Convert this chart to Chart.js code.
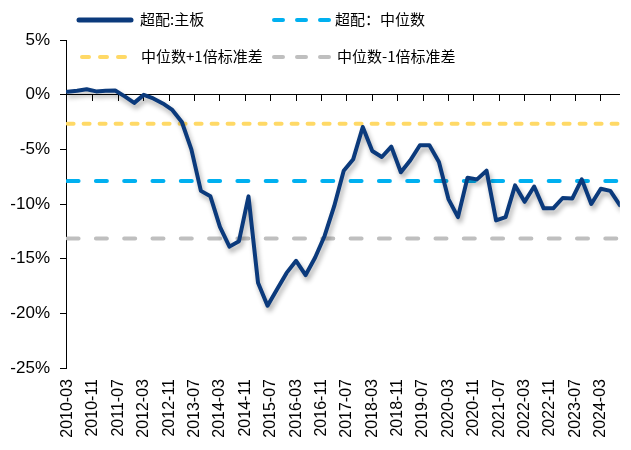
<!DOCTYPE html>
<html><head><meta charset="utf-8">
<script src="https://cdn.jsdelivr.net/npm/chart.js@4.4.1/dist/chart.umd.min.js"></script>
<style>
html,body{margin:0;padding:0;background:#fff;}
#wrap{position:relative;width:631px;height:450px;overflow:hidden;background:#fff;}
canvas{position:absolute;left:0;top:0;}
.lg{position:absolute;font-family:"Noto Sans CJK SC","Liberation Sans",sans-serif;font-size:15px;color:#000;line-height:18px;white-space:nowrap;}
#legendSvg{position:absolute;left:0;top:0;}
</style></head>
<body><div id="wrap"><canvas id="c" width="631" height="450"></canvas>
<svg id="legendSvg" width="631" height="80"></svg>
</div>
<script>
// ---- data ----
const dates = [
 "2010-03","2010-06","2010-09","2010-12",
 "2011-03","2011-06","2011-09","2011-12",
 "2012-03","2012-06","2012-09","2012-12",
 "2013-03","2013-06","2013-09","2013-12",
 "2014-03","2014-06","2014-09","2014-12",
 "2015-03","2015-06","2015-09","2015-12",
 "2016-03","2016-06","2016-09","2016-12",
 "2017-03","2017-06","2017-09","2017-12",
 "2018-03","2018-06","2018-09","2018-12",
 "2019-03","2019-06","2019-09","2019-12",
 "2020-03","2020-06","2020-09","2020-12",
 "2021-03","2021-06","2021-09","2021-12",
 "2022-03","2022-06","2022-09","2022-12",
 "2023-03","2023-06","2023-09","2023-12",
 "2024-03","2024-06","2024-09"
];
const mainBoard = [
 0.27, 0.36, 0.5, 0.3,
 0.36, 0.38, -0.16, -0.75,
 -0.02, -0.35, -0.8, -1.4,
 -2.5, -5.0, -8.8, -9.3,
 -12.1, -13.9, -13.4, -9.3,
 -17.2, -19.3, -17.8, -16.3,
 -15.2, -16.5, -14.9, -12.9,
 -10.2, -6.95, -5.9, -2.96,
 -5.15, -5.7, -4.75, -7.1,
 -6.0, -4.63, -4.63, -6.15,
 -9.55, -11.2, -7.6, -7.75,
 -6.95, -11.5, -11.2, -8.3,
 -9.8, -8.4, -10.4, -10.4,
 -9.45, -9.5, -7.75, -10.0,
 -8.6, -8.8, -10.1
];
const medianLevel = -7.9;
const plusOneStdLevel = -2.65;
const minusOneStdLevel = -13.15;
const tickLabels = ["2010-03","2010-11","2011-07","2012-03","2012-11","2013-07","2014-03","2014-11","2015-07","2016-03","2016-11","2017-07","2018-03","2018-11","2019-07","2020-03","2020-11","2021-07","2022-03","2022-11","2023-07","2024-03"];
const yTicks = [5, 0, -5, -10, -15, -20, -25];
const seriesNames = ["超配:主板", "超配：中位数", "中位数+1倍标准差", "中位数-1倍标准差"];

// ---- helpers ----
function monthIndex(s){ const [y,m] = s.split("-").map(Number); return (y-2010)*12 + (m-3); }
const C_MAIN = "#0B3A7C", C_MED = "#00B0F0", C_UP = "#FFD966", C_LO = "#BFBFBF";

const mainPts = dates.map((d,i)=>({x: monthIndex(d), y: mainBoard[i]}));
const x0 = monthIndex(dates[0]), x1 = monthIndex(dates[dates.length-1]);
const levelLine = v => [{x:x0, y:v},{x:x1, y:v}];

const xMin = -0.5, xMax = 174;
const tickVals = tickLabels.map(monthIndex);

const shadowPlugin = {
  id: 'shadow',
  beforeDatasetDraw(chart, args){
    if (args.index === 0){
      const ctx = chart.ctx; ctx.save();
      ctx.shadowColor = 'rgba(0,0,0,0.32)';
      ctx.shadowBlur = 5; ctx.shadowOffsetX = 2; ctx.shadowOffsetY = 4;
    }
  },
  afterDatasetDraw(chart, args){
    if (args.index === 0){ chart.ctx.restore(); }
  }
};

new Chart(document.getElementById('c'), {
  type: 'line',
  data: {
    datasets: [
      {label: seriesNames[0], data: mainPts, borderColor: C_MAIN, borderWidth: 4, pointRadius: 0, tension: 0, borderJoinStyle: 'round', borderCapStyle: 'round', fill: false},
      {label: seriesNames[1], data: levelLine(medianLevel), borderColor: C_MED, borderWidth: 4, borderDash: [11, 17.3], borderCapStyle: 'round', pointRadius: 0, fill: false},
      {label: seriesNames[2], data: levelLine(plusOneStdLevel), borderColor: C_UP, borderWidth: 4, borderDash: [6, 10], borderCapStyle: 'round', pointRadius: 0, fill: false},
      {label: seriesNames[3], data: levelLine(minusOneStdLevel), borderColor: C_LO, borderWidth: 4, borderDash: [11, 17.3], borderCapStyle: 'round', pointRadius: 0, fill: false}
    ]
  },
  options: {
    responsive: false,
    animation: false,
    devicePixelRatio: 1,
    layout: {padding: {top: 40, left: 0, right: 0, bottom: 0}},
    plugins: {legend: {display: false}, tooltip: {enabled: false}},
    scales: {
      x: {
        type: 'linear', min: xMin, max: xMax,
        afterBuildTicks: s => { s.ticks = tickVals.map(v=>({value:v})); },
        afterFit: s => { s.height = 82; },
        grid: {display: false, drawTicks: false},
        border: {display: false},
        ticks: {
          autoSkip: false, minRotation: 90, maxRotation: 90, padding: 11,
          color: '#000', font: {family: '"Liberation Sans", Arial, sans-serif', size: 16},
          callback: v => { const i = tickVals.indexOf(v); return i >= 0 ? tickLabels[i] : ''; }
        }
      },
      x2: {
        type: 'linear', axis: 'x', min: xMin, max: xMax,
        position: {y: 0},
        afterBuildTicks: s => { s.ticks = tickVals.slice(1).map(v=>({value:v})); },
        grid: {drawOnChartArea: false, drawTicks: true, tickLength: 6, color: '#000', lineWidth: 1},
        border: {display: true, color: '#000', width: 1},
        ticks: {display: false}
      },
      y: {
        type: 'linear', min: -25, max: 5,
        afterBuildTicks: s => { s.ticks = yTicks.map(v=>({value:v})); },
        afterFit: s => { s.width = 66; },
        grid: {drawOnChartArea: false, drawTicks: true, tickLength: 6, color: '#000', lineWidth: 1},
        border: {display: true, color: '#000', width: 1},
        ticks: {
          padding: 10, color: '#000',
          font: {family: '"Liberation Sans", Arial, sans-serif', size: 17},
          callback: v => v + '%'
        }
      }
    }
  },
  plugins: [shadowPlugin]
});

// ---- legend (HTML/SVG) ----
const legendItems = [
  {name: seriesNames[0], color: C_MAIN, dash: null, x1: 79, x2: 131, y: 20, tx: 140, w: 5},
  {name: seriesNames[1], color: C_MED, dash: "9 14", x1: 274, x2: 330, y: 20, tx: 335, w: 4},
  {name: seriesNames[2], color: C_UP, dash: "7 11", x1: 82, x2: 133, y: 57, tx: 141, w: 4},
  {name: seriesNames[3], color: C_LO, dash: "9 14", x1: 274, x2: 330, y: 57, tx: 337, w: 4}
];
const svg = document.getElementById('legendSvg');
const NS = "http://www.w3.org/2000/svg";
legendItems.forEach(it => {
  const ln = document.createElementNS(NS, 'line');
  ln.setAttribute('x1', it.x1); ln.setAttribute('x2', it.x2);
  ln.setAttribute('y1', it.y); ln.setAttribute('y2', it.y);
  ln.setAttribute('stroke', it.color); ln.setAttribute('stroke-width', it.w);
  ln.setAttribute('stroke-linecap', 'round');
  if (it.dash) ln.setAttribute('stroke-dasharray', it.dash);
  svg.appendChild(ln);
  const d = document.createElement('div');
  d.className = 'lg'; d.textContent = it.name;
  d.style.left = it.tx + 'px'; d.style.top = (it.y - 10) + 'px';
  document.getElementById('wrap').appendChild(d);
});
</script>
</body></html>
